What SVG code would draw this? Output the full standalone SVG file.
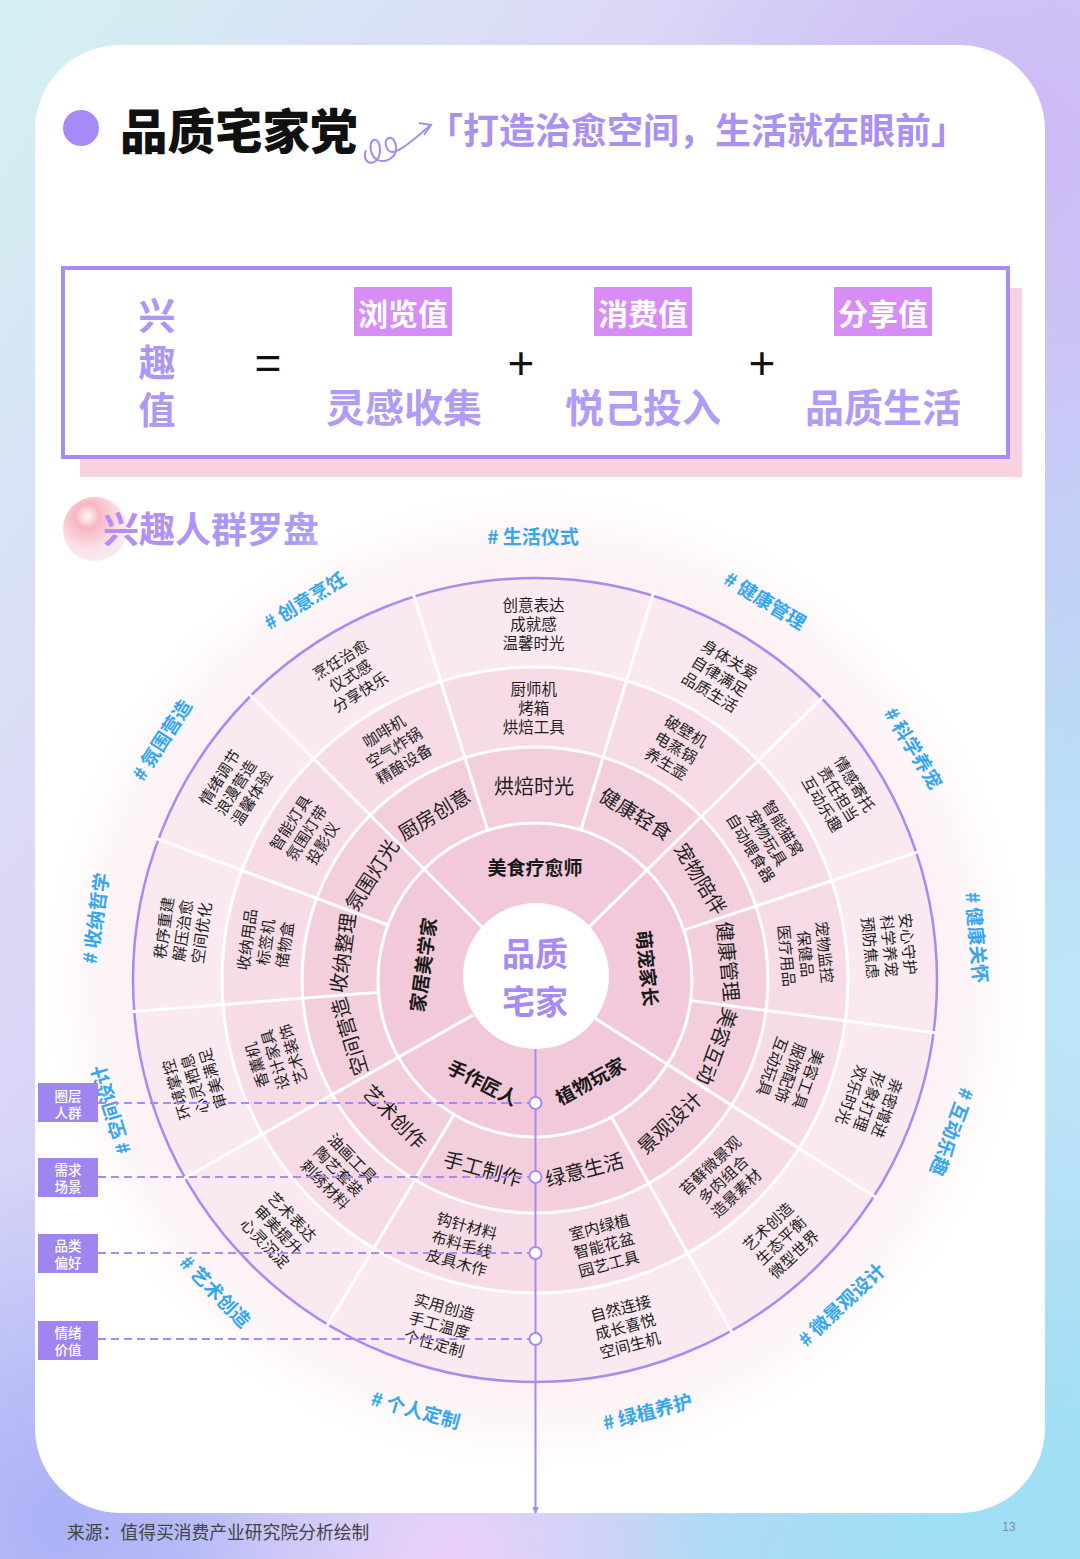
<svg xmlns="http://www.w3.org/2000/svg" width="1080" height="1559" viewBox="0 0 1080 1559">
<defs>
<style>
text{font-family:'Noto Sans CJK SC','Noto Sans',sans-serif;}
.c{text-anchor:middle;dominant-baseline:central;}
.t4,.t3{font-size:15.5px;fill:#1f1f1f;}
.t2{font-size:20px;fill:#1f1f1f;}
.t1{font-size:19px;font-weight:700;fill:#1a1a1a;}
.tag{font-size:19px;font-weight:700;fill:#36a6ee;}
.dv{stroke:#fff;stroke-width:3;stroke-linecap:square;}
.rb{fill:none;stroke:#fff;stroke-width:3;}
.lg rect{fill:#a085f0;}
.lg text{font-size:13.5px;fill:#fff;font-weight:500;}
.dash{stroke:#a88af2;stroke-width:2;stroke-dasharray:8 5;fill:none;}
.dot{fill:#fff;stroke:#a88af2;stroke-width:2;}
.kw{font-size:30px;font-weight:700;fill:#fff;}
.kbox{fill:#d88cf6;}
.big{font-size:39px;font-weight:700;fill:#b29bf6;}
.op{font-size:46px;fill:#111;font-family:'Liberation Sans',sans-serif;}
.xqz{font-size:37px;font-weight:700;fill:#ae96f6;writing-mode:vertical-rl;letter-spacing:10px;text-anchor:middle;}
.ctr{font-size:33px;font-weight:700;fill:#a88af5;}
</style>
<linearGradient id="bg" x1="0" y1="0" x2="1" y2="1">
<stop offset="0" stop-color="#d3f1f2"/>
<stop offset="0.3" stop-color="#dcd8f7"/>
<stop offset="0.6" stop-color="#c9cdf7"/>
<stop offset="1" stop-color="#a3e1f5"/>
</linearGradient>
<radialGradient id="o1" gradientUnits="userSpaceOnUse" cx="1000" cy="150" r="380"><stop offset="0" stop-color="#cdb8f4"/><stop offset="1" stop-color="#cdb8f4" stop-opacity="0"/></radialGradient>
<radialGradient id="o2" gradientUnits="userSpaceOnUse" cx="1080" cy="1000" r="420"><stop offset="0" stop-color="#bde6f8"/><stop offset="1" stop-color="#bde6f8" stop-opacity="0"/></radialGradient>
<radialGradient id="o3" gradientUnits="userSpaceOnUse" cx="450" cy="1570" r="260"><stop offset="0" stop-color="#ecd0f8"/><stop offset="1" stop-color="#ecd0f8" stop-opacity="0"/></radialGradient>
<radialGradient id="o4" gradientUnits="userSpaceOnUse" cx="60" cy="1520" r="360"><stop offset="0" stop-color="#aab1f6"/><stop offset="1" stop-color="#aab1f6" stop-opacity="0"/></radialGradient>
<radialGradient id="o5" gradientUnits="userSpaceOnUse" cx="1010" cy="1570" r="380"><stop offset="0" stop-color="#9edff5"/><stop offset="1" stop-color="#9edff5" stop-opacity="0"/></radialGradient>
<radialGradient id="halo" gradientUnits="userSpaceOnUse" cx="535" cy="980" r="500">
<stop offset="0.79" stop-color="#fcf1f5"/>
<stop offset="0.9" stop-color="#fdf7f9"/>
<stop offset="1" stop-color="#ffffff" stop-opacity="0"/>
</radialGradient>
<radialGradient id="ball" cx="0.38" cy="0.3" r="0.75">
<stop offset="0" stop-color="#fffafa"/>
<stop offset="0.25" stop-color="#f7b7c2"/>
<stop offset="0.7" stop-color="#fbe2e8"/>
<stop offset="1" stop-color="#f2eef4"/>
</radialGradient>
<linearGradient id="ttl" x1="0" y1="0" x2="1" y2="0">
<stop offset="0" stop-color="#b58cf4"/>
<stop offset="1" stop-color="#a99ef5"/>
</linearGradient>
<marker id="arr" viewBox="0 0 10 10" refX="9" refY="5" markerWidth="7" markerHeight="7" orient="auto" markerUnits="userSpaceOnUse">
<path d="M0,0 L10,5 L0,10 z" fill="#a58af2"/>
</marker>
</defs>

<!-- background -->
<rect x="0" y="0" width="1080" height="1559" fill="url(#bg)"/>
<rect x="0" y="0" width="1080" height="1559" fill="url(#o1)"/>
<rect x="0" y="0" width="1080" height="1559" fill="url(#o2)"/>
<rect x="0" y="0" width="1080" height="1559" fill="url(#o4)"/>
<rect x="0" y="0" width="1080" height="1559" fill="url(#o5)"/>
<rect x="0" y="0" width="1080" height="1559" fill="url(#o3)"/>
<rect x="35" y="45" width="1010" height="1468" rx="85" fill="#ffffff"/>

<!-- header -->
<g id="header">
<circle cx="81" cy="128" r="18" fill="#a68bf7"/>
<text x="120" y="128" style="font-size:47.5px;font-weight:900;fill:#111;dominant-baseline:central">品质宅家党</text>
<path d="M366,150 C360,166 380,168 380,150 C380,134 366,138 372,154 C377,166 398,162 396,146 C394,132 380,138 388,150 C394,158 410,142 431,125" fill="none" stroke="#a88af2" stroke-width="2"/>
<path d="M419,123 L431,125 L424,135" fill="none" stroke="#a88af2" stroke-width="2"/>
<text x="427" y="128" style="font-size:36px;font-weight:700;fill:#ab90f2;dominant-baseline:central">「打造治愈空间，生活就在眼前」</text>
</g>

<!-- formula -->
<g id="formula">
<rect x="80" y="288" width="942" height="189" fill="#f8d2e1"/>
<rect x="63" y="268" width="945" height="189" fill="#fff" stroke="#a98bf3" stroke-width="4"/>
<g id="f-xqz">
<text class="xqz" x="157" y="368">兴趣值</text>
</g>
<text class="c op" x="268" y="363">=</text>
<text class="c op" x="521" y="363">+</text>
<text class="c op" x="762" y="363">+</text>
<g id="f-1"><rect class="kbox" x="354" y="287" width="98" height="49"/><text class="c kw" x="403" y="312">浏览值</text><text class="c big" x="404" y="405">灵感收集</text></g>
<g id="f-2"><rect class="kbox" x="594" y="287" width="98" height="49"/><text class="c kw" x="643" y="312">消费值</text><text class="c big" x="643" y="405">悦己投入</text></g>
<g id="f-3"><rect class="kbox" x="834" y="287" width="98" height="49"/><text class="c kw" x="883" y="312">分享值</text><text class="c big" x="883" y="405">品质生活</text></g>
</g>

<!-- section title -->
<g id="sec-title">
<circle cx="95" cy="529" r="32" fill="url(#ball)"/>
<text x="103" y="527" style="font-size:36px;font-weight:700;fill:url(#ttl);dominant-baseline:central">兴趣人群罗盘</text>
</g>

<!-- compass base -->
<g id="compass">
<circle cx="535" cy="980" r="500" fill="url(#halo)"/>
<circle cx="535" cy="980" r="402" fill="#fae9f0"/>
<circle cx="535" cy="980" r="313" fill="#f7dce7"/>
<circle cx="535" cy="980" r="233" fill="#f3cfdd"/>
<circle cx="535" cy="980" r="157" fill="#f1c9da"/>
<circle cx="535" cy="980" r="402" fill="none" stroke="#a88bf0" stroke-width="2.5"/>
<circle class="rb" cx="535" cy="980" r="313"/>
<circle class="rb" cx="535" cy="980" r="233"/>
<circle class="rb" cx="535" cy="980" r="157"/>
<g id="dividers">
<line class="dv" x1="487.8" y1="830.3" x2="413.5" y2="594.7"/>
<line class="dv" x1="580.9" y1="829.9" x2="653.1" y2="593.7"/>
<line class="dv" x1="587.1" y1="928.8" x2="823.2" y2="696.8"/>
<line class="dv" x1="683.9" y1="930.2" x2="918.1" y2="851.8"/>
<line class="dv" x1="690.7" y1="1000.5" x2="935.5" y2="1032.7"/>
<line class="dv" x1="596.6" y1="1019.2" x2="875.7" y2="1197.1"/>
<line class="dv" x1="611.6" y1="1117.0" x2="732.1" y2="1332.6"/>
<line class="dv" x1="454.1" y1="1114.6" x2="326.9" y2="1326.3"/>
<line class="dv" x1="471.5" y1="1015.9" x2="183.4" y2="1178.9"/>
<line class="dv" x1="378.5" y1="992.3" x2="132.2" y2="1011.7"/>
<line class="dv" x1="387.9" y1="925.0" x2="156.6" y2="838.5"/>
<line class="dv" x1="483.4" y1="928.4" x2="249.3" y2="694.3"/>
</g>
<circle cx="536" cy="976" r="73" fill="#fff"/>
</g>

<g id="center">
<text class="c ctr" x="535" y="952">品质</text>
<text class="c ctr" x="535" y="1000">宅家</text>
</g>

<!-- ring 1 groups -->
<g id="g-meishi" transform="translate(535,866)"><text class="c t1">美食疗愈师</text></g>
<g id="g-mengchong" transform="translate(648.4,968.1) rotate(84)"><text class="c t1">萌宠家长</text></g>
<g id="g-zhiwu" transform="translate(589.8,1079.9) rotate(-28.75)"><text class="c t1">植物玩家</text></g>
<g id="g-shouzuo" transform="translate(483.2,1081.6) rotate(27)"><text class="c t1">手作匠人</text></g>
<g id="g-jiaju" transform="translate(422,964.6) rotate(-82.25)"><text class="c t1">家居美学家</text></g>

<!-- ring 2 scenes -->
<g id="s1" transform="translate(534.1,785)"><text class="c t2">烘焙时光</text></g>
<g id="s2" transform="translate(636.2,813.3) rotate(31.25)"><text class="c t2">健康轻食</text></g>
<g id="s3" transform="translate(701.3,878.1) rotate(58.5)"><text class="c t2">宠物陪伴</text></g>
<g id="s4" transform="translate(729.1,961.3) rotate(84.5)"><text class="c t2">健康管理</text></g>
<g id="s5" transform="translate(718.2,1046.7) rotate(110)"><text class="c t2">美容互动</text></g>
<g id="s6" transform="translate(668.9,1121.8) rotate(-43.35)"><text class="c t2">景观设计</text></g>
<g id="s7" transform="translate(584.2,1168.7) rotate(-14.6)"><text class="c t2">绿意生活</text></g>
<g id="s8" transform="translate(482.9,1167.9) rotate(15.5)"><text class="c t2">手工制作</text></g>
<g id="s9" transform="translate(395.3,1116.1) rotate(45.75)"><text class="c t2">艺术创作</text></g>
<g id="s10" transform="translate(348.5,1037) rotate(-107)"><text class="c t2">空间营造</text></g>
<g id="s11" transform="translate(341.9,952.9) rotate(-82)"><text class="c t2">收纳整理</text></g>
<g id="s12" transform="translate(371,874.5) rotate(-57.25)"><text class="c t2">氛围灯光</text></g>
<g id="s13" transform="translate(433.8,813.3) rotate(-31.25)"><text class="c t2">厨房创意</text></g>

<!-- ring 3 categories -->
<g id="p1" transform="translate(533.8,707)"><text class="c t3"><tspan x="0" y="-19">厨师机</tspan><tspan x="0" y="0">烤箱</tspan><tspan x="0" y="19">烘焙工具</tspan></text></g>
<g id="p2" transform="translate(676.6,746.6) rotate(31.25)"><text class="c t3"><tspan x="0" y="-19">破壁机</tspan><tspan x="0" y="0">电蒸锅</tspan><tspan x="0" y="19">养生壶</tspan></text></g>
<g id="p3" transform="translate(767.8,837.4) rotate(58.5)"><text class="c t3"><tspan x="0" y="-19">智能猫窝</tspan><tspan x="0" y="0">宠物玩具</tspan><tspan x="0" y="19">自动喂食器</tspan></text></g>
<g id="p4" transform="translate(806.7,953.8) rotate(84.5)"><text class="c t3"><tspan x="0" y="-19">宠物监控</tspan><tspan x="0" y="0">保健品</tspan><tspan x="0" y="19">医疗用品</tspan></text></g>
<g id="p5" transform="translate(791.5,1073.4) rotate(110)"><text class="c t3"><tspan x="0" y="-19">美容工具</tspan><tspan x="0" y="0">服饰配饰</tspan><tspan x="0" y="19">互动玩具</tspan></text></g>
<g id="p6" transform="translate(722.4,1178.5) rotate(-43.35)"><text class="c t3"><tspan x="0" y="-19">苔藓微景观</tspan><tspan x="0" y="0">多肉组合</tspan><tspan x="0" y="19">造景素材</tspan></text></g>
<g id="p7" transform="translate(603.8,1244.2) rotate(-14.6)"><text class="c t3"><tspan x="0" y="-19">室内绿植</tspan><tspan x="0" y="0">智能花盆</tspan><tspan x="0" y="19">园艺工具</tspan></text></g>
<g id="p8" transform="translate(462.1,1243.1) rotate(15.5)"><text class="c t3"><tspan x="0" y="-19">钩针材料</tspan><tspan x="0" y="0">布料毛线</tspan><tspan x="0" y="19">皮具木作</tspan></text></g>
<g id="p9" transform="translate(339.5,1170.5) rotate(45.75)"><text class="c t3"><tspan x="0" y="-19">油画工具</tspan><tspan x="0" y="0">陶艺套装</tspan><tspan x="0" y="19">刺绣材料</tspan></text></g>
<g id="p10" transform="translate(273.9,1059.8) rotate(-107)"><text class="c t3"><tspan x="0" y="-19">香薰机</tspan><tspan x="0" y="0">设计家具</tspan><tspan x="0" y="19">艺术装饰</tspan></text></g>
<g id="p11" transform="translate(264.6,942) rotate(-82)"><text class="c t3"><tspan x="0" y="-19">收纳用品</tspan><tspan x="0" y="0">标签机</tspan><tspan x="0" y="19">储物盒</tspan></text></g>
<g id="p12" transform="translate(305.4,832.3) rotate(-57.25)"><text class="c t3"><tspan x="0" y="-19">智能灯具</tspan><tspan x="0" y="0">氛围灯带</tspan><tspan x="0" y="19">投影仪</tspan></text></g>
<g id="p13" transform="translate(393.4,746.6) rotate(-31.25)"><text class="c t3"><tspan x="0" y="-19">咖啡机</tspan><tspan x="0" y="0">空气炸锅</tspan><tspan x="0" y="19">精酿设备</tspan></text></g>

<!-- ring 4 emotional values -->
<g id="e1" transform="translate(533.4,623)"><text class="c t4"><tspan x="0" y="-19">创意表达</tspan><tspan x="0" y="0">成就感</tspan><tspan x="0" y="19">温馨时光</tspan></text></g>
<g id="e2" transform="translate(720.2,674.8) rotate(31.25)"><text class="c t4"><tspan x="0" y="-19">身体关爱</tspan><tspan x="0" y="0">自律满足</tspan><tspan x="0" y="19">品质生活</tspan></text></g>
<g id="e3" transform="translate(839.4,793.5) rotate(58.5)"><text class="c t4"><tspan x="0" y="-19">情感寄托</tspan><tspan x="0" y="0">责任担当</tspan><tspan x="0" y="19">互动乐趣</tspan></text></g>
<g id="e4" transform="translate(890.4,945.8) rotate(84.5)"><text class="c t4"><tspan x="0" y="-19">安心守护</tspan><tspan x="0" y="0">科学养宠</tspan><tspan x="0" y="19">预防焦虑</tspan></text></g>
<g id="e5" transform="translate(870.5,1102.1) rotate(110)"><text class="c t4"><tspan x="0" y="-19">亲密增进</tspan><tspan x="0" y="0">形象打理</tspan><tspan x="0" y="19">欢乐时光</tspan></text></g>
<g id="e6" transform="translate(780.1,1239.6) rotate(-43.35)"><text class="c t4"><tspan x="0" y="-19">艺术创造</tspan><tspan x="0" y="0">生态平衡</tspan><tspan x="0" y="19">微型世界</tspan></text></g>
<g id="e7" transform="translate(625,1325.5) rotate(-14.6)"><text class="c t4"><tspan x="0" y="-19">自然连接</tspan><tspan x="0" y="0">成长喜悦</tspan><tspan x="0" y="19">空间生机</tspan></text></g>
<g id="e8" transform="translate(439.6,1324) rotate(15.5)"><text class="c t4"><tspan x="0" y="-19">实用创造</tspan><tspan x="0" y="0">手工温度</tspan><tspan x="0" y="19">个性定制</tspan></text></g>
<g id="e9" transform="translate(279.3,1229.1) rotate(45.75)"><text class="c t4"><tspan x="0" y="-19">艺术表达</tspan><tspan x="0" y="0">审美提升</tspan><tspan x="0" y="19">心灵沉淀</tspan></text></g>
<g id="e10" transform="translate(193.6,1084.4) rotate(-107)"><text class="c t4"><tspan x="0" y="-19">环境掌控</tspan><tspan x="0" y="0">心灵栖息</tspan><tspan x="0" y="19">审美满足</tspan></text></g>
<g id="e11" transform="translate(181.5,930.3) rotate(-82)"><text class="c t4"><tspan x="0" y="-19">秩序重建</tspan><tspan x="0" y="0">解压治愈</tspan><tspan x="0" y="19">空间优化</tspan></text></g>
<g id="e12" transform="translate(234.8,786.9) rotate(-57.25)"><text class="c t4"><tspan x="0" y="-19">情绪调节</tspan><tspan x="0" y="0">浪漫营造</tspan><tspan x="0" y="19">温馨体验</tspan></text></g>
<g id="e13" transform="translate(349.8,674.8) rotate(-31.25)"><text class="c t4"><tspan x="0" y="-19">烹饪治愈</tspan><tspan x="0" y="0">仪式感</tspan><tspan x="0" y="19">分享快乐</tspan></text></g>

<!-- hashtags -->
<g id="h1" transform="translate(533.1,535)"><text class="c tag"># 生活仪式</text></g>
<g id="h2" transform="translate(765.9,599.6) rotate(31.25)"><text class="c tag"># 健康管理</text></g>
<g id="h3" transform="translate(914.4,747.5) rotate(58.5)"><text class="c tag"># 科学养宠</text></g>
<g id="h4" transform="translate(978,937.4) rotate(84.5)"><text class="c tag"># 健康关怀</text></g>
<g id="h5" transform="translate(953.2,1132.2) rotate(110)"><text class="c tag"># 互动乐趣</text></g>
<g id="h6" transform="translate(840.5,1303.6) rotate(-43.35)"><text class="c tag"># 微景观设计</text></g>
<g id="h7" transform="translate(647.2,1410.6) rotate(-14.6)"><text class="c tag"># 绿植养护</text></g>
<g id="h8" transform="translate(416.1,1408.8) rotate(15.5)"><text class="c tag"># 个人定制</text></g>
<g id="h9" transform="translate(216.2,1290.5) rotate(45.75)"><text class="c tag"># 艺术创造</text></g>
<g id="h10" transform="translate(109.4,1110.1) rotate(-107)"><text class="c tag"># 空间设计</text></g>
<g id="h11" transform="translate(94.3,918.1) rotate(-82)"><text class="c tag"># 收纳哲学</text></g>
<g id="h12" transform="translate(160.8,739.3) rotate(-57.25)"><text class="c tag"># 氛围营造</text></g>
<g id="h13" transform="translate(304.1,599.6) rotate(-31.25)"><text class="c tag"># 创意烹饪</text></g>

<!-- connectors -->
<g id="connectors">
<line x1="535.5" y1="1049" x2="535.5" y2="1513" stroke="#a58af2" stroke-width="2" marker-end="url(#arr)"/>
<line class="dash" x1="98" y1="1103" x2="529" y2="1103"/>
<line class="dash" x1="98" y1="1177" x2="529" y2="1177"/>
<line class="dash" x1="98" y1="1253" x2="529" y2="1253"/>
<line class="dash" x1="98" y1="1339" x2="529" y2="1339"/>
<circle class="dot" cx="535.5" cy="1103" r="6"/>
<circle class="dot" cx="535.5" cy="1177" r="6"/>
<circle class="dot" cx="535.5" cy="1253" r="6"/>
<circle class="dot" cx="535.5" cy="1339" r="6"/>
</g>

<!-- legend -->
<g id="lg1" class="lg"><rect x="38" y="1083" width="60" height="39"/><text class="c" x="68" y="1094.5">圈层</text><text class="c" x="68" y="1111.5">人群</text></g>
<g id="lg2" class="lg"><rect x="38" y="1158" width="60" height="39"/><text class="c" x="68" y="1169">需求</text><text class="c" x="68" y="1186">场景</text></g>
<g id="lg3" class="lg"><rect x="38" y="1234" width="60" height="39"/><text class="c" x="68" y="1245">品类</text><text class="c" x="68" y="1262">偏好</text></g>
<g id="lg4" class="lg"><rect x="38" y="1321" width="60" height="39"/><text class="c" x="68" y="1332">情绪</text><text class="c" x="68" y="1349">价值</text></g>

<!-- footer -->
<g id="footer">
<text x="67" y="1531" style="font-size:17.8px;fill:#444;dominant-baseline:central">来源：值得买消费产业研究院分析绘制</text>
<text x="1009" y="1527" style="font-size:12px;fill:#8a8a9a;text-anchor:middle;dominant-baseline:central;font-family:'Liberation Sans',sans-serif">13</text>
</g>
</svg>
